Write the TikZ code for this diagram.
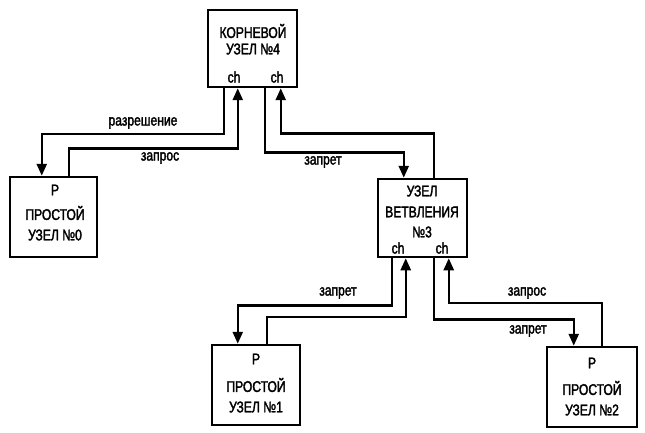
\documentclass[tikz,border=0pt]{standalone}
\usepackage{fontspec}
\setmainfont[FakeStretch=0.78, FakeBold=2]{Liberation Sans}
\usetikzlibrary{arrows.meta}
\tikzset{
  box/.style={draw, line width=2.5pt, inner sep=0pt},
  link/.style={line width=2.5pt},
  txt/.style={font=\fontsize{15.5}{17}\selectfont, inner sep=0pt}
}
\begin{document}
\begin{tikzpicture}[x=1pt, y=-1pt, >={Triangle[length=12pt,width=10pt]}]
  \useasboundingbox (0,0) rectangle (645,433);
  % boxes
  \node[box, minimum width=89pt, minimum height=77pt] (root) at (252.5,48.5) {};
  \node[box, minimum width=87pt, minimum height=80pt] (b0) at (53.5,217) {};
  \node[box, minimum width=89pt, minimum height=78pt] (b3) at (422.5,218) {};
  \node[box, minimum width=88pt, minimum height=80pt] (b1) at (256,385) {};
  \node[box, minimum width=90pt, minimum height=80pt] (b2) at (592,387) {};
  % box texts
  \node[txt] (root1) at (253,31) {КОРНЕВОЙ};
  \node[txt] (root2) at (253,49) {УЗЕЛ №4};
  \node[txt] (rootch1) at (234,77) {ch};
  \node[txt] (rootch2) at (277,77) {ch};
  \node[txt] (b0p) at (55,190) {Р};
  \node[txt] (b01) at (55,213) {ПРОСТОЙ};
  \node[txt] (b02) at (55,235) {УЗЕЛ №0};
  \node[txt] (b31) at (422,191) {УЗЕЛ};
  \node[txt] (b32) at (422,212) {ВЕТВЛЕНИЯ};
  \node[txt] (b33) at (422,232) {№3};
  \node[txt] (b3ch1) at (398,248) {ch};
  \node[txt] (b3ch2) at (442,248) {ch};
  \node[txt] (b1p) at (256,359) {Р};
  \node[txt] (b11) at (256,385) {ПРОСТОЙ};
  \node[txt] (b12) at (256,407) {УЗЕЛ №1};
  \node[txt] (b2p) at (592,363) {Р};
  \node[txt] (b21) at (592,388) {ПРОСТОЙ};
  \node[txt] (b22) at (592,410) {УЗЕЛ №2};
  % connectors
  \draw[link,->] ([xshift=17pt]root.south west) -- ++(0,46) -| ([xshift=33pt]b0.north west);
  \draw[link,->] ([xshift=60pt]b0.north west) -- ++(0,-27) -| ([xshift=31pt]root.south west);
  \draw[link,->] ([xshift=58pt]root.south west) -- ++(0,64) -| ([xshift=27pt]b3.north west);
  \draw[link,->] ([xshift=57pt]b3.north west) -- ++(0,-44) -| ([xshift=74pt]root.south west);
  \draw[link,->] ([xshift=15pt]b3.south west) -- ++(0,47) -| ([xshift=27pt]b1.north west);
  \draw[link,->] ([xshift=56pt]b1.north west) -- ++(0,-27) -| ([xshift=29pt]b3.south west);
  \draw[link,->] ([xshift=57pt]b3.south west) -- ++(0,61) -| ([xshift=28pt]b2.north west);
  \draw[link,->] ([xshift=56pt]b2.north west) -- ++(0,-43) -| ([xshift=72pt]b3.south west);
  % connector labels
  \node[txt] (lres) at (143,123) {разрешение};
  \node[txt] (lreq0) at (160,158) {запрос};
  \node[txt] (lban3) at (323,162) {запрет};
  \node[txt] (lban1) at (338,293) {запрет};
  \node[txt] (lreq2) at (527,293) {запрос};
  \node[txt] (lban2) at (528,331) {запрет};
\end{tikzpicture}
\end{document}
